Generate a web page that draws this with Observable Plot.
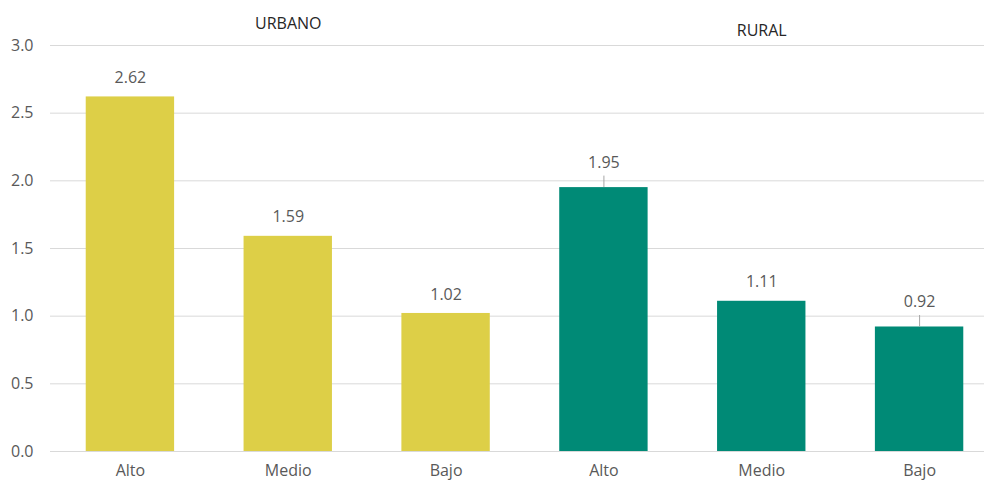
<!DOCTYPE html>
<html>
<head>
<meta charset="utf-8">
<script src="https://cdn.jsdelivr.net/npm/d3@7"></script>
<script src="https://cdn.jsdelivr.net/npm/@observablehq/plot@0.6"></script>
<style>
  html, body { margin: 0; padding: 0; background: #fff; }
  svg { display: block; }
</style>
</head>
<body>
<div id="chart"></div>
<script>
const areas = ["URBANO", "RURAL"];
const levels = ["Alto", "Medio", "Bajo"];
const urbanValues = [2.62, 1.59, 1.02];
const ruralValues = [1.95, 1.11, 0.92];
const yTicks = [0, 0.5, 1.0, 1.5, 2.0, 2.5, 3.0];
const areaColors = ["#DDCF47", "#008A76"];
const leaderKeys = ["RURAL|Alto", "RURAL|Bajo"];

const seriesValues = [urbanValues, ruralValues];
const data = [];
areas.forEach((a, i) => levels.forEach((l, j) => {
  data.push({area: a, level: l, key: a + "|" + l, value: seriesValues[i][j]});
}));
const keys = data.map(d => d.key);
const titles = areas.map(a => ({area: a, key: a + "|" + levels[1]}));

const plain = data.filter(d => !leaderKeys.includes(d.key));
const lead = data.filter(d => leaderKeys.includes(d.key));
const font = "'Open Sans', Lato, sans-serif";

const chart = Plot.plot({
  width: 984,
  height: 482,
  marginTop: 45,
  marginBottom: 31,
  marginLeft: 50,
  marginRight: 0,
  style: {fontFamily: font, fontSize: "16px", color: "#595959", background: "#fff"},
  x: {domain: keys, range: [51, 998], round: false, paddingInner: 0.44, paddingOuter: 0.22, label: null, tickSize: 0, tickPadding: 13,
      tickFormat: k => k.split("|")[1]},
  y: {domain: [0, 3], ticks: yTicks, label: null, tickSize: 0, tickPadding: 17,
      tickFormat: d3.format(".1f")},
  color: {domain: areas, range: areaColors},
  marks: [
    Plot.ruleY(yTicks, {stroke: "#d9d9d9", strokeWidth: 1}),
    Plot.barY(data, {x: "key", y: "value", fill: "area"}),
    Plot.ruleX(lead, {x: "key", y1: "value", y2: d => d.value + 0.085, stroke: "#a6a6a6", strokeWidth: 1}),
    Plot.text(plain, {x: "key", y: "value", text: d => d.value.toFixed(2), dy: -19, fill: "#595959", fontSize: 16}),
    Plot.text(lead, {x: "key", y: "value", text: d => d.value.toFixed(2), dy: -25, fill: "#595959", fontSize: 16}),
    Plot.text(titles.slice(0,1), {x: "key", frameAnchor: "top", dy: -28, text: "area", fill: "#262626", fontSize: 16}),
    Plot.text(titles.slice(1), {x: "key", frameAnchor: "top", dy: -21, text: "area", fill: "#262626", fontSize: 16})
  ]
});
document.getElementById("chart").appendChild(chart);
</script>
</body>
</html>
